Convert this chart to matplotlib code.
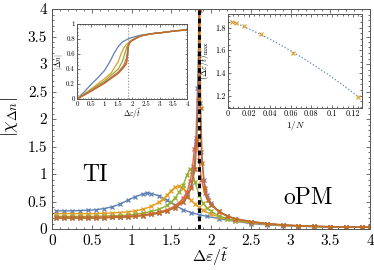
import matplotlib
matplotlib.use("Agg")
import matplotlib.pyplot as plt
import numpy as np
from matplotlib.ticker import MultipleLocator

plt.rcParams['font.family'] = ['cmr10', 'DejaVu Serif']
plt.rcParams['mathtext.fontset'] = 'cm'
plt.rcParams['axes.formatter.use_mathtext'] = True

# ---------------- data ----------------
labels_N = ['8', '16', '32', '64', '128', '256']
colors = ['#5E81B5', '#E19C24', '#8FB032', '#EB6235', '#8778B3', '#C56E1A']

# main panel: |chi_dn| vs de/t
x_n8 = [0.05,0.15,0.25,0.35,0.45,0.55,0.65,0.75,0.85,0.95,1.05,1.15,1.2,1.25,1.35,1.45,1.55,
        1.65,1.75,1.85,1.95,2.1,2.3,2.5,2.7,2.9,3.1,3.3,3.5,3.7,3.9,4.0]
y_n8 = [0.33,0.33,0.33,0.335,0.34,0.35,0.37,0.40,0.45,0.52,0.59,0.64,0.65,0.645,0.60,0.52,0.43,
        0.35,0.30,0.26,0.23,0.19,0.14,0.10,0.075,0.06,0.05,0.043,0.037,0.033,0.03,0.029]

x_n16 = [0.05,0.15,0.25,0.35,0.45,0.55,0.65,0.75,0.85,0.95,1.05,1.15,1.25,1.35,1.4,1.45,1.5,
         1.55,1.6,1.65,1.7,1.75,1.8,1.85,1.9,2.0,2.1,2.2,2.3,2.5,2.7,2.9,3.1,3.3,3.5,3.7,3.9,4.0]
y_n16 = [0.28,0.28,0.28,0.28,0.28,0.28,0.285,0.29,0.30,0.31,0.33,0.36,0.41,0.49,0.55,0.62,0.70,
         0.76,0.78,0.74,0.63,0.52,0.45,0.40,0.34,0.27,0.22,0.18,0.15,0.11,0.085,0.065,0.055,0.045,0.04,0.035,0.031,0.03]

x_n32 = [0.05,0.15,0.25,0.35,0.45,0.55,0.65,0.75,0.85,0.95,1.05,1.15,1.25,1.35,1.45,1.5,1.55,
         1.6,1.65,1.7,1.73,1.76,1.8,1.85,1.9,1.95,2.0,2.1,2.2,2.3,2.5,2.7,2.9,3.1,3.3,3.5,3.7,3.9,4.0]
y_n32 = [0.23,0.23,0.23,0.23,0.23,0.23,0.235,0.24,0.245,0.25,0.27,0.29,0.32,0.36,0.43,0.49,0.57,
         0.67,0.80,0.98,1.09,1.05,0.85,0.62,0.47,0.38,0.32,0.24,0.19,0.16,0.12,0.09,0.07,0.055,0.046,0.04,0.035,0.031,0.03]

x_n64 = [0.05,0.15,0.25,0.35,0.45,0.55,0.65,0.75,0.85,0.95,1.05,1.15,1.25,1.35,1.45,1.55,1.6,
         1.65,1.7,1.74,1.77,1.79,1.81,1.83,1.85,1.88,1.92,1.96,2.0,2.1,2.2,2.3,2.5,2.7,2.9,3.1,3.3,3.5,3.7,3.9,4.0]
y_n64 = [0.21,0.21,0.21,0.21,0.21,0.21,0.215,0.22,0.225,0.23,0.24,0.26,0.28,0.31,0.35,0.42,0.48,
         0.56,0.68,0.88,1.15,1.45,1.66,1.55,1.25,0.90,0.65,0.52,0.44,0.31,0.23,0.18,0.13,0.095,0.072,0.058,0.048,0.041,0.036,0.032,0.03]

x_n128 = [0.05,0.15,0.25,0.35,0.45,0.55,0.65,0.75,0.85,0.95,1.05,1.15,1.25,1.35,1.45,1.55,1.65,
          1.7,1.75,1.79,1.81,1.83,1.845,1.86,1.88,1.91,1.95,2.0,2.1,2.2,2.3,2.5,2.7,2.9,3.1,3.3,3.5,3.7,3.9,4.0]
y_n128 = [0.20,0.20,0.20,0.20,0.20,0.20,0.205,0.21,0.215,0.22,0.23,0.245,0.265,0.29,0.33,0.39,0.50,
          0.60,0.78,1.10,1.60,2.56,3.20,2.30,1.40,0.90,0.62,0.47,0.32,0.24,0.19,0.135,0.1,0.075,0.06,0.05,0.042,0.037,0.033,0.03]

x_n256 = [0.05,0.15,0.25,0.35,0.45,0.55,0.65,0.75,0.85,0.95,1.05,1.15,1.25,1.35,1.45,1.55,1.65,
          1.7,1.75,1.8,1.82,1.84,1.85,1.86,1.87,1.89,1.92,1.96,2.0,2.1,2.2,2.3,2.5,2.7,2.9,3.1,3.3,3.5,3.7,3.9,4.0]
y_n256 = [0.20,0.20,0.20,0.20,0.20,0.20,0.205,0.21,0.215,0.22,0.23,0.245,0.265,0.29,0.33,0.39,0.49,
          0.58,0.74,1.10,1.60,2.35,5.00,3.98,2.20,1.20,0.75,0.52,0.44,0.32,0.24,0.19,0.135,0.1,0.075,0.06,0.05,0.042,0.037,0.033,0.031]

main_x = [x_n8, x_n16, x_n32, x_n64, x_n128, x_n256]
main_y = [y_n8, y_n16, y_n32, y_n64, y_n128, y_n256]
de_c = 1.85

# inset 1: |dn| vs de/t
ix_n8 = [0,0.25,0.5,0.75,1.0,1.2,1.35,1.5,1.65,1.85,2.0,2.3,2.7,3.2,3.6,4.0]
iy_n8 = [0,0.09,0.19,0.28,0.38,0.50,0.61,0.70,0.76,0.80,0.82,0.85,0.87,0.89,0.91,0.92]
ix_n16 = [0,0.5,1.0,1.25,1.5,1.6,1.7,1.8,1.9,2.0,2.3,2.7,3.2,3.6,4.0]
iy_n16 = [0,0.13,0.27,0.35,0.50,0.60,0.68,0.73,0.76,0.79,0.84,0.87,0.89,0.91,0.92]
ix_n32 = [0,0.5,1.0,1.5,1.65,1.75,1.82,1.9,2.0,2.3,2.7,3.2,3.6,4.0]
iy_n32 = [0,0.12,0.24,0.40,0.50,0.62,0.70,0.75,0.78,0.84,0.87,0.89,0.91,0.92]
ix_n64 = [0,0.5,1.0,1.5,1.7,1.8,1.85,1.9,2.0,2.3,2.7,3.2,3.6,4.0]
iy_n64 = [0,0.11,0.22,0.36,0.45,0.55,0.68,0.74,0.78,0.84,0.87,0.89,0.91,0.92]
ix_n128 = [0,0.5,1.0,1.5,1.7,1.8,1.84,1.87,1.92,2.0,2.3,2.7,3.2,3.6,4.0]
iy_n128 = [0,0.105,0.215,0.35,0.43,0.49,0.62,0.72,0.76,0.78,0.84,0.87,0.89,0.91,0.92]
ix_n256 = [0,0.5,1.0,1.5,1.7,1.8,1.85,1.88,1.93,2.0,2.3,2.7,3.2,3.6,4.0]
iy_n256 = [0,0.10,0.21,0.34,0.42,0.47,0.60,0.72,0.76,0.78,0.84,0.87,0.89,0.91,0.92]
ins_x = [ix_n8, ix_n16, ix_n32, ix_n64, ix_n128, ix_n256]
ins_y = [iy_n8, iy_n16, iy_n32, iy_n64, iy_n128, iy_n256]

# inset 2: peak position vs 1/N
invN = [1/256, 1/128, 1/64, 1/32, 1/16, 1/8]
de_max = [1.85, 1.84, 1.81, 1.74, 1.58, 1.19]

# ---------------- figure ----------------
fig = plt.figure(figsize=(3.74, 2.70), dpi=100)
spc = '#555555'

def style(ax, fs, major=3.0, minor=1.6):
    for s in ax.spines.values():
        s.set_color(spc)
        s.set_linewidth(0.7)
    ax.tick_params(which='both', direction='in', top=True, right=True, colors=spc,
                   labelcolor='black', labelsize=fs, width=0.6)
    ax.tick_params(which='major', length=major)
    ax.tick_params(which='minor', length=minor)

ax = fig.add_axes([52/374, 41/270, 318/374, 220/270])
for xs, ys, c in zip(main_x, main_y, colors):
    ax.plot(xs, ys, color=c, lw=1.0, marker='x', ms=3.0, mew=0.9)
ax.axvline(de_c, color='black', lw=2.2, ls=(0, (1.5, 1.2)), zorder=5)
ax.set_xlim(0, 4)
ax.set_ylim(0, 4)
ax.xaxis.set_major_locator(MultipleLocator(0.5))
ax.xaxis.set_minor_locator(MultipleLocator(0.1))
ax.yaxis.set_major_locator(MultipleLocator(0.5))
ax.yaxis.set_minor_locator(MultipleLocator(0.1))
ax.xaxis.set_major_formatter(plt.FuncFormatter(lambda v, p: f'{v:g}'))
ax.yaxis.set_major_formatter(plt.FuncFormatter(lambda v, p: f'{v:g}'))
style(ax, 11)
ax.set_xlabel(r'$\Delta\varepsilon/\tilde{t}$', fontsize=11.5, labelpad=-1.0)
ax.set_ylabel(r'$|\chi_{\Delta n}|$', fontsize=13, labelpad=2)
ax.yaxis.set_label_coords(-0.1, 0.51)
ax.text(0.54, 0.98, 'TI', fontsize=17, ha='center', va='center')
ax.text(3.22, 0.56, 'oPM', fontsize=17, ha='center', va='center')

# inset 1
a1 = fig.add_axes([77/374, (270-99)/270, 110/374, 75/270])
for xs, ys, c in zip(ins_x, ins_y, colors):
    a1.plot(xs, ys, color=c, lw=0.9)
a1.axvline(de_c, color='#888888', lw=0.8, ls=':')
a1.set_xlim(0, 4)
a1.set_ylim(0, 1)
a1.xaxis.set_major_locator(MultipleLocator(0.5))
a1.xaxis.set_minor_locator(MultipleLocator(0.1))
a1.yaxis.set_major_locator(MultipleLocator(0.2))
a1.yaxis.set_minor_locator(MultipleLocator(0.05))
a1.xaxis.set_major_formatter(plt.FuncFormatter(lambda v, p: f'{v:g}'))
a1.yaxis.set_major_formatter(plt.FuncFormatter(lambda v, p: f'{v:g}'))
style(a1, 5, 1.8, 1.0)
a1.tick_params(pad=1.5)
a1.set_xlabel(r'$\Delta\varepsilon/\tilde{t}$', fontsize=5.5, labelpad=0.5)
a1.set_ylabel(r'$|\Delta n|$', fontsize=5.5, labelpad=1)

# inset 2
a2 = fig.add_axes([228/374, (270-108)/270, 134/374, 94/270])
coef = np.polyfit(invN, de_max, 2)
xf = np.linspace(0, invN[-1], 50)
a2.plot(xf, np.polyval(coef, xf), color='#5E81B5', lw=0.9, ls=':')
a2.plot(invN, de_max, ls='none', marker='x', ms=3, mew=0.8, color='#E19C24')
a2.set_xlim(0, 0.1285)
a2.set_ylim(1.09, 1.92)
a2.xaxis.set_major_locator(MultipleLocator(0.02))
a2.xaxis.set_minor_locator(MultipleLocator(0.005))
a2.yaxis.set_major_locator(MultipleLocator(0.2))
a2.yaxis.set_minor_locator(MultipleLocator(0.05))
a2.xaxis.set_major_formatter(plt.FuncFormatter(lambda v, p: f'{v:g}'))
a2.yaxis.set_major_formatter(plt.FuncFormatter(lambda v, p: f'{v:g}'))
style(a2, 5.8, 2.2, 1.2)
a2.tick_params(pad=1.5)
a2.set_xlabel(r'$1/N$', fontsize=6.5, labelpad=0.5)
a2.set_ylabel(r'$(\Delta\varepsilon/\tilde{t})_{\mathrm{max}}$', fontsize=6.2, labelpad=2.5)

fig.savefig('out.png', dpi=100)
